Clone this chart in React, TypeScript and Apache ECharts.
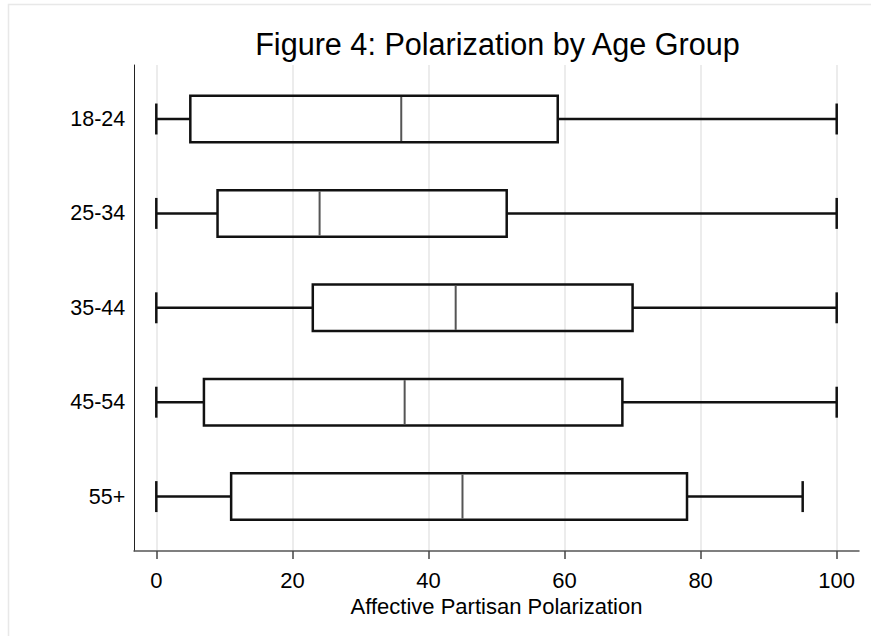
import React, { useEffect, useRef } from "react";
import * as echarts from "echarts";

// ---- data ----
const categories = ["18-24", "25-34", "35-44", "45-54", "55+"];
const lowerWhisker = [0, 0, 0, 0, 0];
const q1 = [5, 9, 23, 7, 11];
const median = [36, 24, 44, 36.5, 45];
const q3 = [59, 51.5, 70, 68.5, 78];
const upperWhisker = [100, 100, 100, 100, 95];
const xMin = 0;
const xMax = 100;
const xInterval = 20;

const titleText = "Figure 4: Polarization by Age Group";
const xAxisName = "Affective Partisan Polarization";

const FONT = "'Liberation Sans', Arial, Helvetica, sans-serif";

export default function App() {
  const ref = useRef<HTMLDivElement>(null);

  useEffect(() => {
    if (!ref.current) return;
    const chart = echarts.init(ref.current, undefined, { renderer: "svg" });

    const seriesData = categories.map((_, i) => [
      i,
      lowerWhisker[i],
      q1[i],
      median[i],
      q3[i],
      upperWhisker[i],
    ]);

    const option: any = {
      animation: false,
      backgroundColor: "#ffffff",
      textStyle: { fontFamily: FONT },
      graphic: [
        {
          type: "rect",
          silent: true,
          z: -10,
          shape: { x: 8.5, y: 4.5, width: 900, height: 700 },
          style: { fill: "none", stroke: "#e8e8e8", lineWidth: 1.5 },
        },
        {
          type: "text",
          x: 497.5,
          y: 43.5,
          style: {
            text: titleText,
            fontSize: 30.6,
            fontFamily: FONT,
            fill: "#000",
            align: "center",
            verticalAlign: "middle",
          },
        },
      ],
      grid: [
        { left: 134, top: 65, width: 725, height: 486 },
        { left: 156.3, top: 65, width: 680.4, height: 486 },
        { left: 156.3, top: 71.8, width: 680.4, height: 472 },
      ],
      xAxis: [
        {
          gridIndex: 0,
          type: "value",
          min: 0,
          max: 1,
          axisLine: { show: true, onZero: false, lineStyle: { color: "#555", width: 1.5 } },
          axisTick: { show: false },
          axisLabel: { show: false },
          splitLine: { show: false },
        },
        {
          gridIndex: 1,
          type: "value",
          min: xMin,
          max: xMax,
          interval: xInterval,
          axisLine: { show: false },
          axisTick: { show: true, length: 8, lineStyle: { color: "#444", width: 1.5 } },
          axisLabel: { fontSize: 22, color: "#000", margin: 18, fontFamily: FONT },
          splitLine: { show: true, lineStyle: { color: "#e6e6e6", width: 1.5 } },
          name: xAxisName,
          nameLocation: "middle",
          nameGap: 37,
          nameTextStyle: { fontSize: 22, color: "#000", fontFamily: FONT },
        },
        {
          gridIndex: 2,
          type: "value",
          min: xMin,
          max: xMax,
          show: false,
        },
      ],
      yAxis: [
        {
          gridIndex: 0,
          type: "value",
          min: 0,
          max: 1,
          axisLine: { show: true, onZero: false, lineStyle: { color: "#222", width: 1 } },
          axisTick: { show: false },
          axisLabel: { show: false },
          splitLine: { show: false },
        },
        {
          gridIndex: 1,
          type: "value",
          min: 0,
          max: 1,
          show: false,
        },
        {
          gridIndex: 2,
          type: "category",
          data: categories,
          inverse: true,
          axisLine: { show: false },
          axisTick: { show: false },
          axisLabel: { fontSize: 21.5, color: "#000", margin: 31, fontFamily: FONT },
          splitLine: { show: false },
        },
      ],
      series: [
        {
          type: "custom",
          xAxisIndex: 2,
          yAxisIndex: 2,
          data: seriesData,
          encode: { y: 0, x: [1, 2, 3, 4, 5] },
          renderItem: (params: any, api: any) => {
            const cat = api.value(0);
            const yc = api.coord([api.value(1), cat])[1];
            const xs = [1, 2, 3, 4, 5].map((d) => api.coord([api.value(d), cat])[0]);
            const band = api.size([0, 1])[1];
            const boxH = band * 0.493;
            const capH = band * 0.328;
            const black = { stroke: "#111", lineWidth: 2.5, fill: "none" };
            return {
              type: "group",
              children: [
                { type: "line", shape: { x1: xs[0], y1: yc, x2: xs[1], y2: yc }, style: black },
                { type: "line", shape: { x1: xs[3], y1: yc, x2: xs[4], y2: yc }, style: black },
                { type: "line", shape: { x1: xs[0], y1: yc - capH / 2, x2: xs[0], y2: yc + capH / 2 }, style: black },
                { type: "line", shape: { x1: xs[4], y1: yc - capH / 2, x2: xs[4], y2: yc + capH / 2 }, style: black },
                {
                  type: "rect",
                  shape: { x: xs[1], y: yc - boxH / 2, width: xs[3] - xs[1], height: boxH },
                  style: black,
                },
                {
                  type: "line",
                  shape: { x1: xs[2], y1: yc - boxH / 2 + 1.2, x2: xs[2], y2: yc + boxH / 2 - 1.2 },
                  style: { stroke: "#555", lineWidth: 2 },
                },
              ],
            };
          },
        },
      ],
    };

    chart.setOption(option);
    return () => chart.dispose();
  }, []);

  return (
    <div
      ref={ref}
      style={{ position: "absolute", left: 0, top: 0, width: 871, height: 636 }}
    />
  );
}
